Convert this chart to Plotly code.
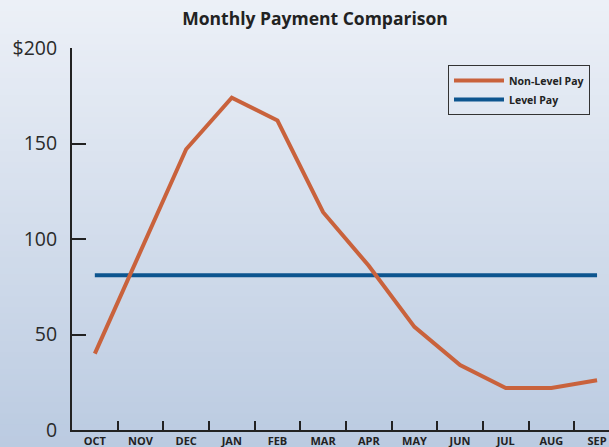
import plotly.graph_objects as go

months = ["OCT", "NOV", "DEC", "JAN", "FEB", "MAR", "APR", "MAY", "JUN", "JUL", "AUG", "SEP"]
non_level = [40, 93, 147, 174, 162, 114, 86, 54, 34, 22, 22, 26]
level = [81, 81, 81, 81, 81, 81, 81, 81, 81, 81, 81, 81]
y_tick_vals = [0, 50, 100, 150, 200]
y_tick_text = ["0", "50", "100", "150", "$200"]

W, H = 609, 447
ml, mr, mt, mb = 72, 0, 48, 17
plot_h = H - mt - mb
plot_w = W - ml - mr

fig = go.Figure()
fig.add_trace(go.Scatter(x=months, y=level, mode="lines", name="<b>Level Pay</b>",
                         line=dict(color="#0d558f", width=4), legendrank=2))
fig.add_trace(go.Scatter(x=months, y=non_level, mode="lines", name="<b>Non-Level Pay</b>",
                         line=dict(color="#c9623c", width=4), legendrank=1))

# background vertical gradient (paper-referenced strips)
top = (236, 240, 247)
bot = (187, 203, 225)
n = 80
shapes = []
p_top = (plot_h + mt) / plot_h
p_bot = -mb / plot_h
x0p = -ml / plot_w - 0.01
x1p = 1.01
for i in range(n):
    t = i / (n - 1)
    c = tuple(int(round(top[k] + (bot[k] - top[k]) * t)) for k in range(3))
    y1 = p_top - (p_top - p_bot) * i / n
    y0 = p_top - (p_top - p_bot) * (i + 1) / n - 0.002
    shapes.append(dict(type="rect", xref="paper", yref="paper", x0=x0p, x1=x1p,
                       y0=y0, y1=y1, fillcolor="rgb(%d,%d,%d)" % c,
                       line=dict(width=0), layer="below"))

fig.update_layout(
    width=W, height=H,
    margin=dict(l=ml, r=mr, t=mt, b=mb, autoexpand=False),
    paper_bgcolor="rgb(212,221,236)",
    plot_bgcolor="rgba(0,0,0,0)",
    shapes=shapes,
    font=dict(family="Open Sans", color="#2a2a2a"),
    title=dict(text="<b>Monthly Payment Comparison</b>", x=315 / W, xanchor="center",
               y=1 - 19 / H, yanchor="middle", font=dict(size=17.5, color="#222")),
    showlegend=True,
    legend=dict(x=(448 - ml) / plot_w, y=(H - mb - 65) / plot_h, xanchor="left", yanchor="top",
                bordercolor="#333", borderwidth=1, bgcolor="rgba(0,0,0,0)",
                font=dict(size=10.5, color="#222", family="Open Sans"), itemwidth=50,
                tracegroupgap=0),
    xaxis=dict(range=[-0.5, (W - 95) / 45.64], showgrid=False, zeroline=False,
               showline=True, linecolor="#222", linewidth=2, automargin=False,
               ticks="inside", tickson="boundaries", ticklen=9, tickwidth=2, tickcolor="#222",
               tickfont=dict(size=11, color="#222", family="Open Sans"),
               tickprefix="<b>", ticksuffix="</b>", ticklabelstandoff=0),
    yaxis=dict(range=[0, 200], showgrid=False, zeroline=False,
               showline=True, linecolor="#222", linewidth=2, automargin=False,
               tickvals=y_tick_vals, ticktext=y_tick_text,
               ticks="inside", ticklen=14, tickwidth=2, tickcolor="#222",
               tickfont=dict(size=19.5, color="#2a2a2a", family="Open Sans"),
               ticklabelstandoff=9),
)

fig.write_html("out.html", config={"displayModeBar": False},
               post_script="document.body.style.margin='0';document.body.style.overflow='hidden';")
